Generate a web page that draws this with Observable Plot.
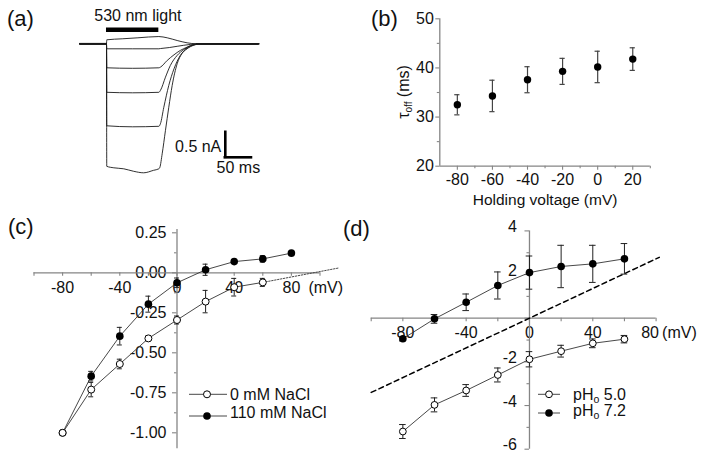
<!DOCTYPE html>
<html>
<head>
<meta charset="utf-8">
<script src="https://cdn.jsdelivr.net/npm/d3@7"></script>
<script src="https://cdn.jsdelivr.net/npm/@observablehq/plot@0.6"></script>
<style>
  html, body { margin: 0; padding: 0; background: #fff; }
  #fig { position: relative; width: 711px; height: 458px; overflow: hidden; background: #fff;
         font-family: "Liberation Sans", Arial, sans-serif; }
</style>
</head>
<body>
<div id="fig"></div>
<script>
// ---------------- DATA ----------------
// (a) photocurrent traces: [time (ms), current (nA)]
const trace1 = [[-51,0],[0,0],[0.5,0.08],[30,0.1],[60,0.12],[100,0.145],[116,0.12],[135,0.066],[154,0.02],[172,0],[291,0]];
const trace2 = [[-51,0],[0,0],[0.5,-0.1],[50,-0.1],[100,-0.1],[103,-0.095],[120,-0.075],[135,-0.05],[160,-0.013],[178,0],[291,0]];
const trace3 = [[-51,0],[0,0],[0.5,-0.48],[50,-0.49],[100,-0.48],[103,-0.467],[116,-0.333],[129,-0.22],[141,-0.133],[154,-0.067],[167,-0.013],[180,0],[291,0]];
const trace4 = [[-51,0],[0,0],[0.5,-0.97],[50,-0.98],[100,-0.97],[103,-0.933],[112.7,-0.667],[122,-0.433],[135,-0.233],[148,-0.113],[160.5,-0.04],[173,-0.007],[185,0],[291,0]];
const trace5 = [[-51,0],[0,0],[0.5,-1.64],[50,-1.66],[100,-1.65],[103,-1.6],[109.5,-1.27],[119,-0.833],[129,-0.5],[141,-0.233],[154,-0.1],[167,-0.027],[180,0],[291,0]];
const trace6 = [[-51,0],[0,0],[0.5,-2.45],[14,-2.48],[33,-2.5],[52,-2.55],[71,-2.58],[90,-2.53],[100,-2.5],[102,-2.47],[106.4,-2.2],[112.7,-1.73],[119,-1.27],[125.5,-0.833],[135,-0.4],[144.6,-0.187],[157,-0.067],[170,-0.013],[182,0],[291,0]];
const lightPulse = [0, 100];          // ms
const scaleBarT = [227, 277];         // 50 ms
const scaleBarI = [-1.77, -2.27];     // 0.5 nA

// (b) tau_off vs holding voltage
const holdV  = [-80, -60, -40, -20, 0, 20];
const tauOff = [32.5, 34.3, 37.6, 39.3, 40.2, 41.8];
const tauErr = [2.05, 3.2, 2.65, 2.65, 3.2, 2.3];
const xTicksB = [-80, -60, -40, -20, 0, 20];
const xMinorB = [-70, -50, -30, -10, 10, 30];
const yTicksB = [20, 30, 40, 50];
const yMinorB = [25, 35, 45];

// (c) I-V, NaCl
const vC0   = [-80, -60, -40, -20, 0, 20, 40, 60];
const iC0   = [-1.0, -0.73, -0.57, -0.41, -0.295, -0.18, -0.09, -0.06];
const eC0   = [0.012, 0.045, 0.03, 0.015, 0.025, 0.07, 0.055, 0.025];
const vC110 = [-80, -60, -40, -20, 0, 20, 40, 60, 80];
const iC110 = [-1.0, -0.646, -0.396, -0.196, -0.0625, 0.019, 0.07, 0.087, 0.123];
const eC110 = [0, 0.03, 0.055, 0.05, 0.03, 0.035, 0.012, 0.02, 0.01];
const extC  = [[60, -0.06], [113, 0.03]];   // dotted extrapolation of 0 mM NaCl
const xTicksC  = [-100, -80, -60, -40, -20, 0, 20, 40, 60, 80, 100];
const xLabelsC = [-80, -40, 0, 40, 80];
const yTicksC  = [0.25, 0, -0.25, -0.5, -0.75, -1.0];
const yMinorC  = [0.125, -0.125, -0.375, -0.625, -0.875];

// (d) I-V, pH
const vD   = [-80, -60, -40, -20, 0, 20, 40, 60];
const iD50 = [-5.19, -3.97, -3.31, -2.6, -1.88, -1.51, -1.15, -0.96];
const eD50 = [0.32, 0.32, 0.27, 0.32, 0.35, 0.27, 0.2, 0.17];
const iD72 = [-0.94, -0.03, 0.73, 1.5, 2.09, 2.37, 2.49, 2.72];
const eD72 = [0.1, 0.2, 0.38, 0.62, 0.76, 0.97, 0.85, 0.7];
const refLine = [[-100, -3.4], [82, 2.79]];   // dashed line
const xTicksD  = [-100, -80, -60, -40, -20, 0, 20, 40, 60, 80];
const xLabelsD = [-80, -40, 0, 40, 80];
const yTicksD  = [4, 2, 0, -2, -4, -6];
const yLabelsD = [4, 2, -2, -4, -6];
const yMinorD  = [3, 1, -1, -3, -5];

// ---------------- DRAWING ----------------
const fig = document.getElementById("fig");
const FONT = "'Liberation Sans', Arial, Helvetica, sans-serif";
const AX = "#858585", TXT = "#111", LN = "#333";
const FS = 16;

function mk(cfg, marks) {
  const svg = Plot.plot({
    width: cfg.w, height: cfg.h,
    marginLeft: cfg.ml, marginRight: cfg.mr, marginTop: cfg.mt, marginBottom: cfg.mb,
    x: {domain: cfg.xd, axis: null},
    y: {domain: cfg.yd, axis: null},
    style: {background: "transparent", overflow: "visible", fontFamily: FONT},
    marks
  });
  svg.style.position = "absolute";
  svg.style.left = cfg.left + "px";
  svg.style.top = cfg.top + "px";
  fig.appendChild(svg);
}
const kx = c => (c.w - c.ml - c.mr) / (c.xd[1] - c.xd[0]);
const ky = c => (c.h - c.mt - c.mb) / (c.yd[1] - c.yd[0]);

// ----- (a) -----
const A = {left: 0, top: 0, w: 370, h: 210, ml: 79.3, mr: 111.7, mt: 28.3, mb: 36.7, xd: [-51, 291], yd: [-2.6, 0.3]};
const traces = [trace1, trace2, trace3, trace4, trace5, trace6];
mk(A, [
  Plot.ruleY([0], {x1: -51, x2: 0, stroke: "#111", strokeWidth: 1.8}),
  Plot.ruleY([0], {x1: 172, x2: 291, stroke: "#111", strokeWidth: 1.8}),
  ...traces.map(tr => Plot.line(tr, {x: d => d[0], y: d => d[1], stroke: "#1a1a1a", strokeWidth: 0.9, curve: "monotone-x"})),
  Plot.ruleY([0.28], {x1: lightPulse[0], x2: lightPulse[1], stroke: "#000", strokeWidth: 4.5}),
  Plot.text(["530 nm light"], {x: 60, y: 0.28, dy: -14.3, text: d => d, fontSize: FS, fill: TXT}),
  Plot.ruleX([scaleBarT[0]], {y1: scaleBarI[0], y2: scaleBarI[1], stroke: "#000", strokeWidth: 2.6, strokeLinecap: "square"}),
  Plot.ruleY([scaleBarI[1]], {x1: scaleBarT[0], x2: scaleBarT[1], stroke: "#000", strokeWidth: 2.6, strokeLinecap: "square"}),
  Plot.text(["0.5 nA"], {x: scaleBarT[0], y: (scaleBarI[0] + scaleBarI[1]) / 2, dx: -4, dy: 2, textAnchor: "end", text: d => d, fontSize: FS, fill: TXT}),
  Plot.text(["50 ms"], {x: (scaleBarT[0] + scaleBarT[1]) / 2, y: scaleBarI[1], dy: 10.5, text: d => d, fontSize: FS, fill: TXT})
]);

// ----- (b) -----
const B = {left: 380, top: 0, w: 331, h: 210, ml: 59.3, mr: 61.2, mt: 18.3, mb: 44.3, xd: [-90, 30], yd: [20, 50]};
const kxB = kx(B), kyB = ky(B);
const rowsB = holdV.map((v, i) => ({v, t: tauOff[i], e: tauErr[i]}));
const capB = 2.6 / kxB;
mk(B, [
  Plot.text(yTicksB, {x: B.xd[0], y: d => d, dx: -6, textAnchor: "end", text: d => String(d), fontSize: FS, fill: TXT}),
  Plot.text(xTicksB, {x: d => d, y: B.yd[0], dy: 13.5, text: d => String(d), fontSize: FS, fill: TXT}),
  Plot.text(["Holding voltage (mV)"], {frameAnchor: "bottom", lineAnchor: "middle", dy: 33.8, text: d => d, fontSize: 15.5, fill: TXT}),
  Plot.ruleX([B.xd[0]], {y1: B.yd[0], y2: B.yd[1], stroke: AX, strokeWidth: 1.3}),
  Plot.ruleY([B.yd[0]], {x1: B.xd[0], x2: B.xd[1], stroke: AX, strokeWidth: 1.3}),
  Plot.ruleY(yTicksB, {x1: B.xd[0] - 4 / kxB, x2: B.xd[0], stroke: AX, strokeWidth: 1.1}),
  Plot.ruleY(yMinorB, {x1: B.xd[0] - 2.5 / kxB, x2: B.xd[0], stroke: AX, strokeWidth: 1.1}),
  Plot.ruleX(xTicksB, {y1: B.yd[0] - 4 / kyB, y2: B.yd[0], stroke: AX, strokeWidth: 1.1}),
  Plot.ruleX(xMinorB, {y1: B.yd[0] - 2.5 / kyB, y2: B.yd[0], stroke: AX, strokeWidth: 1.1}),
  Plot.ruleX(rowsB, {x: "v", y1: d => d.t - d.e, y2: d => d.t + d.e, stroke: "#444", strokeWidth: 1.2}),
  Plot.ruleY(rowsB, {y: d => d.t + d.e, x1: d => d.v - capB, x2: d => d.v + capB, stroke: "#444", strokeWidth: 1.2}),
  Plot.ruleY(rowsB, {y: d => d.t - d.e, x1: d => d.v - capB, x2: d => d.v + capB, stroke: "#444", strokeWidth: 1.2}),
  Plot.dot(rowsB, {x: "v", y: "t", r: 3.7, fill: "#000"})
]);

// ----- (c) -----
const C = {left: 0, top: 210, w: 360, h: 248, ml: 33.5, mr: 40.5, mt: 19.1, mb: 9.7, xd: [-100, 100], yd: [-1.1, 0.27]};
const kxC = kx(C), kyC = ky(C);
const rowsC0 = vC0.map((v, i) => ({v, y: iC0[i], e: eC0[i]}));
const rowsC110 = vC110.map((v, i) => ({v, y: iC110[i], e: eC110[i]}));
const capC = 2.5 / kxC;
const errMarks = (rows, cap, stroke) => [
  Plot.ruleX(rows, {x: "v", y1: d => d.y - d.e, y2: d => d.y + d.e, stroke, strokeWidth: 1}),
  Plot.ruleY(rows, {y: d => d.y + d.e, x1: d => d.v - cap, x2: d => d.v + cap, stroke, strokeWidth: 1}),
  Plot.ruleY(rows, {y: d => d.y - d.e, x1: d => d.v - cap, x2: d => d.v + cap, stroke, strokeWidth: 1})
];
mk(C, [
  Plot.text(yTicksC, {x: 0, y: d => d, dx: -10.5, textAnchor: "end", text: d => d.toFixed(2), fontSize: FS, fill: TXT}),
  Plot.text(xLabelsC, {x: d => d, y: 0, dy: 15.5, text: d => String(d), fontSize: FS, fill: TXT}),
  Plot.text(["(mV)"], {x: xLabelsC[xLabelsC.length - 1], y: 0, dx: 17, dy: 15.5, textAnchor: "start", text: d => d, fontSize: FS, fill: TXT}),
  Plot.ruleY([0], {x1: C.xd[0], x2: C.xd[1], stroke: AX, strokeWidth: 1.3}),
  Plot.ruleX([0], {y1: C.yd[0], y2: C.yd[1], stroke: AX, strokeWidth: 1.3}),
  Plot.ruleX(xTicksC, {y1: -3.5 / kyC, y2: 0, stroke: AX, strokeWidth: 1.1}),
  Plot.ruleY(yTicksC, {x1: -4.5 / kxC, x2: 0, stroke: AX, strokeWidth: 1.1}),
  Plot.ruleY(yMinorC, {x1: -2.5 / kxC, x2: 0, stroke: AX, strokeWidth: 1.1}),
  Plot.line(rowsC110, {x: "v", y: "y", stroke: LN, strokeWidth: 0.9}),
  Plot.line(rowsC0, {x: "v", y: "y", stroke: LN, strokeWidth: 0.9}),
  Plot.line(extC, {x: d => d[0], y: d => d[1], stroke: LN, strokeWidth: 0.9, strokeDasharray: "1.5,1.5"}),
  ...errMarks(rowsC110, capC, "#222"),
  Plot.dot(rowsC110, {x: "v", y: "y", r: 3.8, fill: "#000"}),
  ...errMarks(rowsC0, capC, "#222"),
  Plot.dot(rowsC0, {x: "v", y: "y", r: 3.5, fill: "#fff", stroke: "#000", strokeWidth: 1})
]);

// ----- (d) -----
const D = {left: 360, top: 210, w: 351, h: 248, ml: 10.7, mr: 55.4, mt: 20.4, mb: 9.3, xd: [-100, 80], yd: [-6, 4]};
const kxD = kx(D), kyD = ky(D);
const rowsD50 = vD.map((v, i) => ({v, y: iD50[i], e: eD50[i]}));
const rowsD72 = vD.map((v, i) => ({v, y: iD72[i], e: eD72[i]}));
const capD = 3.3 / kxD;
mk(D, [
  Plot.text(yLabelsD, {x: 0, y: d => d, dx: -12.6, dy: -4, textAnchor: "end", text: d => String(d), fontSize: FS, fill: TXT}),
  Plot.text(xLabelsD.slice(0, -1), {x: d => d, y: 0, dy: 14.5, text: d => String(d), fontSize: FS, fill: TXT}),
  Plot.text(xLabelsD.slice(-1), {x: d => d, y: 0, dx: -6, dy: 14.5, text: d => String(d), fontSize: FS, fill: TXT}),
  Plot.text(["(mV)"], {x: xLabelsD[xLabelsD.length - 1], y: 0, dx: 6, dy: 14.5, textAnchor: "start", text: d => d, fontSize: FS, fill: TXT}),
  Plot.ruleY([0], {x1: D.xd[0], x2: D.xd[1], stroke: AX, strokeWidth: 1.3}),
  Plot.ruleX([0], {y1: D.yd[0], y2: D.yd[1], stroke: AX, strokeWidth: 1.3}),
  Plot.ruleX(xTicksD, {y1: -3.5 / kyD, y2: 0, stroke: AX, strokeWidth: 1.1}),
  Plot.ruleY(yTicksD, {x1: -4.5 / kxD, x2: 0, stroke: AX, strokeWidth: 1.1}),
  Plot.ruleY(yMinorD, {x1: -2.5 / kxD, x2: 0, stroke: AX, strokeWidth: 1.1}),
  Plot.line(refLine, {x: d => d[0], y: d => d[1], stroke: "#000", strokeWidth: 1.5, strokeDasharray: "5,3.5"}),
  Plot.line(rowsD72, {x: "v", y: "y", stroke: LN, strokeWidth: 0.9}),
  Plot.line(rowsD50, {x: "v", y: "y", stroke: LN, strokeWidth: 0.9}),
  ...errMarks(rowsD72, capD, "#222"),
  Plot.dot(rowsD72, {x: "v", y: "y", r: 3.8, fill: "#000"}),
  ...errMarks(rowsD50, capD, "#222"),
  Plot.dot(rowsD50, {x: "v", y: "y", r: 3.4, fill: "#fff", stroke: "#000", strokeWidth: 1})
]);

// ----- overlay: panel letters, subscripted titles, legends -----
const ov = document.createElement("div");
ov.style.cssText = "position:absolute;left:0;top:0;width:711px;height:458px;pointer-events:none;";
ov.innerHTML = `
<svg width="711" height="458" xmlns="http://www.w3.org/2000/svg" font-family="${FONT}" fill="${TXT}">
  <g font-size="22">
    <text x="7" y="25.5">(a)</text>
    <text x="371" y="25.5">(b)</text>
    <text x="8" y="233.5">(c)</text>
    <text x="343" y="236">(d)</text>
  </g>
  <text transform="translate(409,92) rotate(-90)" text-anchor="middle" font-size="16">τ<tspan font-size="10" dy="3">off</tspan><tspan dy="-3"> (ms)</tspan></text>
  <g font-size="${FS}">
    <line x1="189" x2="227" y1="394.3" y2="394.3" stroke="${LN}" stroke-width="0.9"/>
    <circle cx="207" cy="394.3" r="3.5" fill="#fff" stroke="#000" stroke-width="1"/>
    <text x="230" y="394.3" dy="0.35em">0 mM NaCl</text>
    <line x1="189" x2="227" y1="416" y2="416" stroke="${LN}" stroke-width="0.9"/>
    <circle cx="207" cy="416" r="3.8" fill="#000"/>
    <text x="230" y="412.5" dy="0.35em">110 mM NaCl</text>

    <line x1="538" x2="560" y1="394.3" y2="394.3" stroke="${LN}" stroke-width="0.9"/>
    <circle cx="549" cy="394.3" r="3.4" fill="#fff" stroke="#000" stroke-width="1"/>
    <text x="573" y="394.3" dy="0.35em">pH<tspan font-size="10.5" dy="3">o</tspan><tspan dy="-3"> 5.0</tspan></text>
    <line x1="538" x2="560" y1="413" y2="413" stroke="${LN}" stroke-width="0.9"/>
    <circle cx="549" cy="413" r="3.8" fill="#000"/>
    <text x="573" y="410" dy="0.35em">pH<tspan font-size="10.5" dy="3">o</tspan><tspan dy="-3"> 7.2</tspan></text>
  </g>
</svg>`;
fig.appendChild(ov);
</script>
</body>
</html>
